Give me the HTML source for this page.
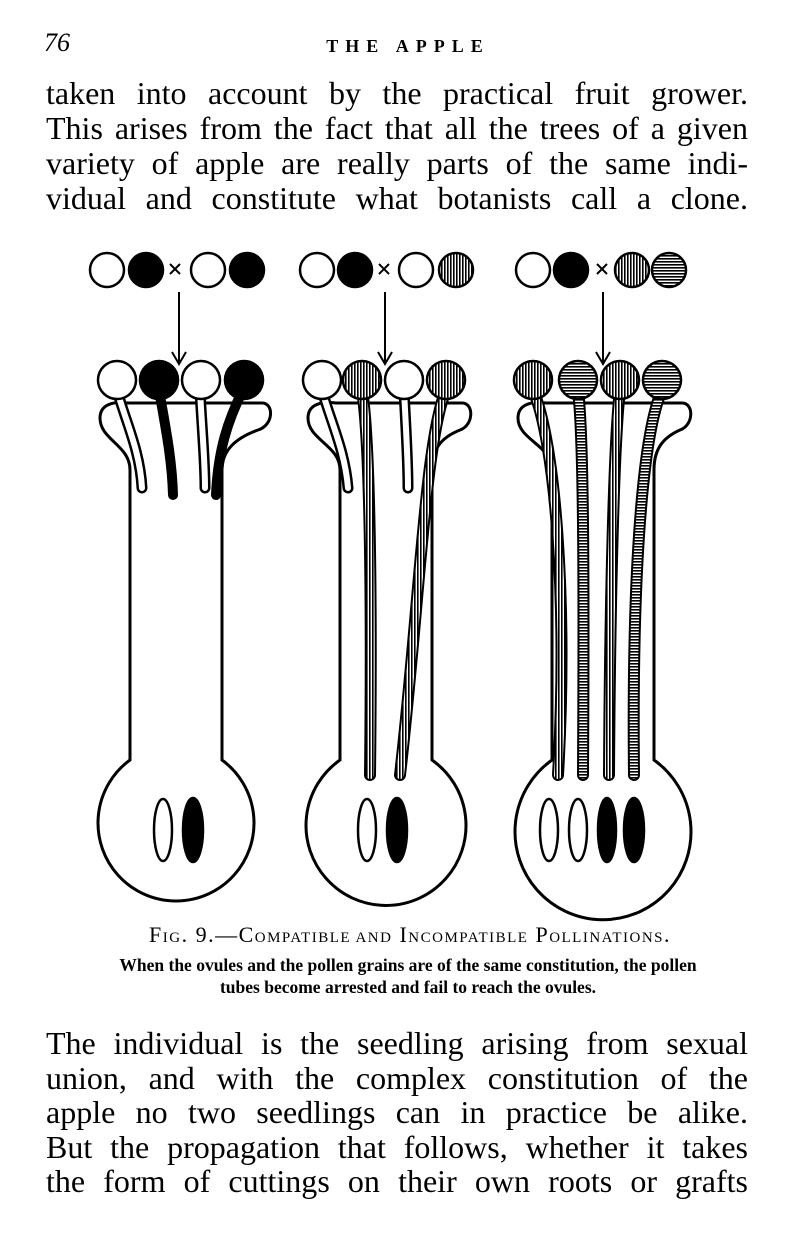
<!DOCTYPE html>
<html><head><meta charset="utf-8"><style>
html,body{margin:0;padding:0;background:#fff}
body{width:800px;height:1248px;position:relative;overflow:hidden;font-family:"Liberation Serif",serif;color:#000}
.t{position:absolute;left:46px;width:702px;font-size:32px;line-height:35px;text-align:justify;text-align-last:justify;white-space:nowrap}
.l{display:block;text-align:justify;text-align-last:justify;white-space:normal}
</style></head><body>
<div style="position:absolute;left:44px;top:28px;font-size:26px;font-style:italic">76</div>
<div style="position:absolute;left:0;width:800px;top:36px;text-align:center;font-size:18px;font-weight:bold;letter-spacing:7px;padding-left:8px">THE APPLE</div>
<div class="t" style="top:76px">
<span class="l">taken into account by the practical fruit grower.</span>
<span class="l">This arises from the fact that all the trees of a given</span>
<span class="l">variety of apple are really parts of the same indi-</span>
<span class="l">vidual and constitute what botanists call a clone.</span>
</div>
<svg style="position:absolute;left:0;top:0" width="800" height="1248" viewBox="0 0 800 1248">
<defs>
<pattern id="v" width="3" height="3" patternUnits="userSpaceOnUse"><rect width="3" height="3" fill="#fff"/><rect width="1.6" height="3" fill="#000"/></pattern>
<pattern id="h" width="3" height="3" patternUnits="userSpaceOnUse"><rect width="3" height="3" fill="#fff"/><rect width="3" height="1.6" fill="#000"/></pattern>
</defs>
<g stroke="#000" stroke-width="2.5" fill="none">
<circle cx="107" cy="270" r="17" fill="#fff"/><circle cx="146" cy="270" r="17" fill="#000"/>
<circle cx="208" cy="270" r="17" fill="#fff"/><circle cx="247" cy="270" r="17" fill="#000"/>
<path d="M170 264l10 10M180 264l-10 10" stroke-width="2"/>
<path d="M179 292V364M172 352l7 12 7-12" stroke-width="2"/>
<path d="M130 760V470C130 445 100 440 100 418C100 405 112 401 128 403H262C274 403 274 425 258 430C236 438 222 450 222 470V760A78 78 0 1 1 130 760Z" stroke-width="3"/>
<circle cx="317" cy="270" r="17" fill="#fff"/><circle cx="355" cy="270" r="17" fill="#000"/>
<circle cx="416" cy="270" r="17" fill="#fff"/><circle cx="456" cy="270" r="17" fill="url(#v)"/>
<path d="M379 264l10 10M389 264l-10 10" stroke-width="2"/>
<path d="M385 292V364M378 352l7 12 7-12" stroke-width="2"/>
<path d="M340 760V470C340 445 308 440 308 418C308 405 320 401 336 403H462C474 403 474 425 460 430C440 438 432 450 432 470V760A80 80 0 1 1 340 760Z" stroke-width="3"/>
<circle cx="533" cy="270" r="17" fill="#fff"/><circle cx="571" cy="270" r="17" fill="#000"/>
<circle cx="632" cy="270" r="17" fill="url(#v)"/><circle cx="669" cy="270" r="17" fill="url(#h)"/>
<path d="M597 264l10 10M607 264l-10 10" stroke-width="2"/>
<path d="M603 292V364M596 352l7 12 7-12" stroke-width="2"/>
<path d="M552 760V470C552 445 518 440 518 418C518 405 530 401 546 403H682C694 403 694 425 680 430C662 438 654 450 654 470V760A88 88 0 1 1 552 760Z" stroke-width="3"/>
</g>
<g stroke-linecap="round" fill="none">
<path d="M117 390C125 420 140 450 142 488" stroke="#000" stroke-width="11"/>
<path d="M117 390C125 420 140 450 142 488" stroke="#fff" stroke-width="6"/>
<path d="M200 390C202 430 205 460 205 488" stroke="#000" stroke-width="11"/>
<path d="M200 390C202 430 205 460 205 488" stroke="#fff" stroke-width="6"/>
<path d="M159 390C166 430 172 460 173 495" stroke="#000" stroke-width="10"/>
<path d="M243 390C228 420 218 450 216 495" stroke="#000" stroke-width="10"/>
<path d="M322 390C330 420 345 450 348 488" stroke="#000" stroke-width="11"/>
<path d="M322 390C330 420 345 450 348 488" stroke="#fff" stroke-width="6"/>
<path d="M404 390C406 430 408 460 408 488" stroke="#000" stroke-width="11"/>
<path d="M404 390C406 430 408 460 408 488" stroke="#fff" stroke-width="6"/>
<path d="M362 390C370 440 372 600 370 775" stroke="#000" stroke-width="12"/>
<path d="M362 390C370 440 372 600 370 775" stroke="url(#v)" stroke-width="8"/>
<path d="M446 390C425 440 420 600 400 775" stroke="#000" stroke-width="12"/>
<path d="M446 390C425 440 420 600 400 775" stroke="url(#v)" stroke-width="8"/>
<path d="M533 390C555 440 568 600 558 775" stroke="#000" stroke-width="12"/>
<path d="M533 390C555 440 568 600 558 775" stroke="url(#v)" stroke-width="8"/>
<path d="M578 390C584 440 584 600 583 775" stroke="#000" stroke-width="12"/>
<path d="M578 390C584 440 584 600 583 775" stroke="url(#h)" stroke-width="8"/>
<path d="M620 390C614 440 610 600 609 775" stroke="#000" stroke-width="12"/>
<path d="M620 390C614 440 610 600 609 775" stroke="url(#v)" stroke-width="8"/>
<path d="M662 390C640 440 632 600 634 775" stroke="#000" stroke-width="12"/>
<path d="M662 390C640 440 632 600 634 775" stroke="url(#h)" stroke-width="8"/>
</g>
<g stroke="#000" stroke-width="2.5">
<circle cx="117" cy="380" r="19" fill="#fff"/><circle cx="159" cy="380" r="19" fill="#000"/>
<circle cx="201" cy="380" r="19" fill="#fff"/><circle cx="244" cy="380" r="19" fill="#000"/>
<circle cx="322" cy="380" r="19" fill="#fff"/><circle cx="362" cy="380" r="19" fill="url(#v)"/>
<circle cx="404" cy="380" r="19" fill="#fff"/><circle cx="446" cy="380" r="19" fill="url(#v)"/>
<circle cx="533" cy="380" r="19" fill="url(#v)"/><circle cx="578" cy="380" r="19" fill="url(#h)"/>
<circle cx="620" cy="380" r="19" fill="url(#v)"/><circle cx="662" cy="380" r="19" fill="url(#h)"/>
<ellipse cx="163" cy="830" rx="9" ry="31" fill="#fff"/><ellipse cx="193" cy="830" rx="10" ry="32" fill="#000"/>
<ellipse cx="367" cy="830" rx="9" ry="31" fill="#fff"/><ellipse cx="397" cy="830" rx="10" ry="32" fill="#000"/>
<ellipse cx="549" cy="830" rx="9" ry="31" fill="#fff"/><ellipse cx="578" cy="830" rx="9" ry="31" fill="#fff"/>
<ellipse cx="607" cy="830" rx="9" ry="32" fill="#000"/><ellipse cx="634" cy="830" rx="10" ry="32" fill="#000"/>
</g>
</svg>
<div style="position:absolute;left:0;width:800px;top:922px;text-align:center;font-size:22px;letter-spacing:1.5px;padding-left:10px">F<span style="font-size:15px">IG</span>. 9.—C<span style="font-size:15px">OMPATIBLE AND</span> I<span style="font-size:15px">NCOMPATIBLE</span> P<span style="font-size:15px">OLLINATIONS</span>.</div>
<div style="position:absolute;left:0;width:800px;top:954px;text-align:center;font-size:17.5px;font-weight:bold;line-height:22px;padding-left:8px">When the ovules and the pollen grains are of the same constitution, the pollen<br>tubes become arrested and fail to reach the ovules.</div>
<div class="t" style="top:1026px;line-height:34.5px">
<span class="l">The individual is the seedling arising from sexual</span>
<span class="l">union, and with the complex constitution of the</span>
<span class="l">apple no two seedlings can in practice be alike.</span>
<span class="l">But the propagation that follows, whether it takes</span>
<span class="l">the form of cuttings on their own roots or grafts</span>
</div>
</body></html>
